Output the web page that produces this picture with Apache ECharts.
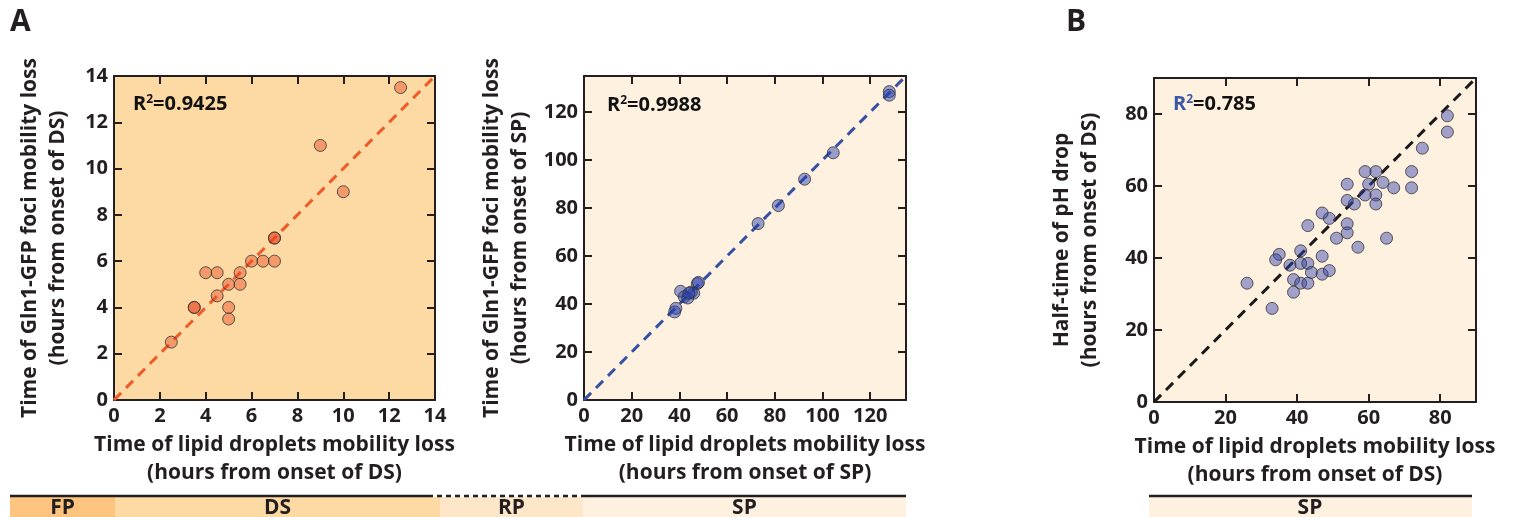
<!DOCTYPE html>
<html>
<head>
<meta charset="utf-8">
<script src="https://cdn.jsdelivr.net/npm/echarts@6/dist/echarts.min.js"></script>
<style>
  html, body { margin: 0; padding: 0; background: #fff; }
  #chart { width: 1517px; height: 517px; }
</style>
</head>
<body>
<div id="chart"></div>
<script>
// panel A left: hours from onset of DS
var dsLipid = [12.5, 9, 10, 7, 7, 6, 6.5, 7, 4, 4.5, 5.5, 5, 5.5, 4.5, 3.5, 3.5, 5, 5, 2.5];
var dsGln1 = [13.5, 11, 9, 7, 7, 6, 6, 6, 5.5, 5.5, 5.5, 5, 5, 4.5, 4, 4, 4, 3.5, 2.5];
// panel A right: hours from onset of SP
var spLipid = [128, 128, 104.5, 92.5, 81.5, 73, 47.5, 48, 45, 46, 40.5, 42, 43.5, 38.5, 38, 44];
var spGln1 = [128.5, 127, 103, 92, 81, 73.5, 48.5, 49, 45, 44.5, 45.3, 43, 42.5, 38.2, 36.7, 44.5];
// panel B: lipid droplets vs pH drop half-time
var phLipid = [82, 82, 75, 72, 72, 67, 64, 62, 59, 60, 62, 62, 59, 56, 54, 54, 54, 54, 51, 57, 65, 49, 47, 43, 47, 41, 41, 43, 38, 44, 47, 49, 35, 34, 39, 41, 43, 39, 26, 33];
var phDrop = [79.5, 75, 70.5, 64, 59.5, 59.5, 61, 64, 64, 60.5, 57.5, 55, 57.5, 55, 60.5, 56, 49.5, 47, 45.5, 43, 45.5, 51, 52.5, 49, 40.5, 42, 38.5, 38.5, 38, 36, 35.5, 36.5, 41, 39.5, 34, 33, 33, 30.5, 33, 26];

var stageNames = ['FP', 'DS', 'RP', 'SP'];
var stageColors = ['#fcc47f', '#fdd9a3', '#fee6c8', '#fff1e0'];

var FONT = "'Open Sans', sans-serif";
var INK = '#231f20';

function zip(a, b) {
  var out = [];
  for (var i = 0; i < a.length; i++) out.push([a[i], b[i]]);
  return out;
}

function axesFor(g, max, interval, xName, yName, yGap) {
  var lbl = { fontFamily: FONT, fontWeight: 'bold', fontSize: 20, color: INK, margin: 6 };
  var nameStyle = { fontFamily: FONT, fontWeight: 'bold', fontSize: 21, lineHeight: 28, color: INK };
  var line = { show: true, onZero: false, lineStyle: { color: INK, width: 2 } };
  var tick = { show: true, inside: true, length: 8, lineStyle: { color: INK, width: 2 } };
  return {
    x: [
      { type: 'value', gridIndex: g, min: 0, max: max, interval: interval, position: 'bottom',
        axisLine: line, axisTick: tick, splitLine: { show: false },
        axisLabel: Object.assign({ showMaxLabel: max % interval === 0 }, lbl),
        name: xName, nameLocation: 'middle', nameGap: 30, nameTextStyle: nameStyle },
      { type: 'value', gridIndex: g, min: 0, max: max, interval: interval, position: 'top',
        axisLine: line, axisTick: tick, splitLine: { show: false }, axisLabel: { show: false } }
    ],
    y: [
      { type: 'value', gridIndex: g, min: 0, max: max, interval: interval, position: 'left',
        axisLine: line, axisTick: tick, splitLine: { show: false },
        axisLabel: Object.assign({ showMaxLabel: max % interval === 0 }, lbl),
        name: yName, nameLocation: 'middle', nameGap: yGap, nameTextStyle: nameStyle },
      { type: 'value', gridIndex: g, min: 0, max: max, interval: interval, position: 'right',
        axisLine: line, axisTick: tick, splitLine: { show: false }, axisLabel: { show: false } }
    ]
  };
}

var a1 = axesFor(0, 14, 2, 'Time of lipid droplets mobility loss\n(hours from onset of DS)',
  'Time of Gln1-GFP foci mobility loss\n(hours from onset of DS)', 42);
var a2 = axesFor(1, 135, 20, 'Time of lipid droplets mobility loss\n(hours from onset of SP)',
  'Time of Gln1-GFP foci mobility loss\n(hours from onset of SP)', 50);
var a3 = axesFor(2, 90, 20, 'Time of lipid droplets mobility loss\n(hours from onset of DS)',
  'Half-time of pH drop\n(hours from onset of DS)', 50);

function diag(g, max, color) {
  return {
    type: 'line', xAxisIndex: g * 2, yAxisIndex: g * 2, data: [[0, 0], [max, max]],
    symbol: 'none', silent: true, z: 1,
    lineStyle: { color: color, width: 3, type: [10, 7] }
  };
}
function dots(g, data, fill) {
  return {
    type: 'scatter', xAxisIndex: g * 2, yAxisIndex: g * 2, data: data, symbolSize: 12, z: 2,
    itemStyle: { color: fill, borderColor: '#333', borderWidth: 1 }
  };
}

function r2(left, top, value, rColor) {
  return {
    type: 'text', left: left, top: top,
    style: {
      text: '{r|R}{s|2}{v|=' + value + '}',
      rich: {
        r: { fontFamily: FONT, fontWeight: 'bold', fontSize: 20, fill: rColor },
        s: { fontFamily: FONT, fontWeight: 'bold', fontSize: 12, fill: rColor, verticalAlign: 'top', padding: [0, 0, 9, 0] },
        v: { fontFamily: FONT, fontWeight: 'bold', fontSize: 20, fill: '#111' }
      }
    }
  };
}

// stage bar under the panels
var stageEdges = [10, 115, 440, 583, 906];
var graphics = [
  { type: 'text', left: 10, top: 7, style: { text: 'A', fontFamily: FONT, fontWeight: 'bold', fontSize: 30, fill: INK } },
  { type: 'text', left: 1066, top: 7, style: { text: 'B', fontFamily: FONT, fontWeight: 'bold', fontSize: 30, fill: INK } },
  r2(133, 94, '0.9425', '#111'),
  r2(607, 95, '0.9988', '#111'),
  r2(1173, 94, '0.785', '#3b57a8')
];
for (var i = 0; i < stageNames.length; i++) {
  graphics.push({ type: 'rect', shape: { x: stageEdges[i], y: 497, width: stageEdges[i + 1] - stageEdges[i], height: 22 },
    style: { fill: stageColors[i] } });
  graphics.push({ type: 'text', x: (stageEdges[i] + stageEdges[i + 1]) / 2, y: 498,
    style: { text: stageNames[i], fontFamily: FONT, fontWeight: 'bold', fontSize: 21, fill: INK, align: 'center' } });
}
graphics.push({ type: 'line', shape: { x1: 10, y1: 496, x2: 428, y2: 496 }, style: { stroke: INK, lineWidth: 2.5 } });
graphics.push({ type: 'line', shape: { x1: 428, y1: 496, x2: 583, y2: 496 }, style: { stroke: INK, lineWidth: 2.5, lineDash: [5, 4] } });
graphics.push({ type: 'line', shape: { x1: 583, y1: 496, x2: 906, y2: 496 }, style: { stroke: INK, lineWidth: 2.5 } });
graphics.push({ type: 'rect', shape: { x: 1149, y: 497, width: 323, height: 22 }, style: { fill: stageColors[3] } });
graphics.push({ type: 'line', shape: { x1: 1149, y1: 496, x2: 1472, y2: 496 }, style: { stroke: INK, lineWidth: 2.5 } });
graphics.push({ type: 'text', x: 1310, y: 498, style: { text: 'SP', fontFamily: FONT, fontWeight: 'bold', fontSize: 21, fill: INK, align: 'center' } });

var chart = echarts.init(document.getElementById('chart'));
chart.setOption({
  animation: false,
  grid: [
    { left: 114, top: 76, width: 321, height: 324, show: true, backgroundColor: '#fdd9a3', borderWidth: 0 },
    { left: 584, top: 76, width: 322, height: 324, show: true, backgroundColor: '#fff1e0', borderWidth: 0 },
    { left: 1154, top: 78, width: 322, height: 324, show: true, backgroundColor: '#fff1e0', borderWidth: 0 }
  ],
  xAxis: a1.x.concat(a2.x, a3.x),
  yAxis: a1.y.concat(a2.y, a3.y),
  series: [
    diag(0, 14, '#f05a28'),
    dots(0, zip(dsLipid, dsGln1), 'rgba(232,70,35,0.55)'),
    diag(1, 135, '#3550a5'),
    dots(1, zip(spLipid, spGln1), 'rgba(40,62,175,0.6)'),
    diag(2, 90, '#1a1a1a'),
    dots(2, zip(phLipid, phDrop), 'rgba(50,66,172,0.58)')
  ],
  graphic: graphics
});
</script>
</body>
</html>
